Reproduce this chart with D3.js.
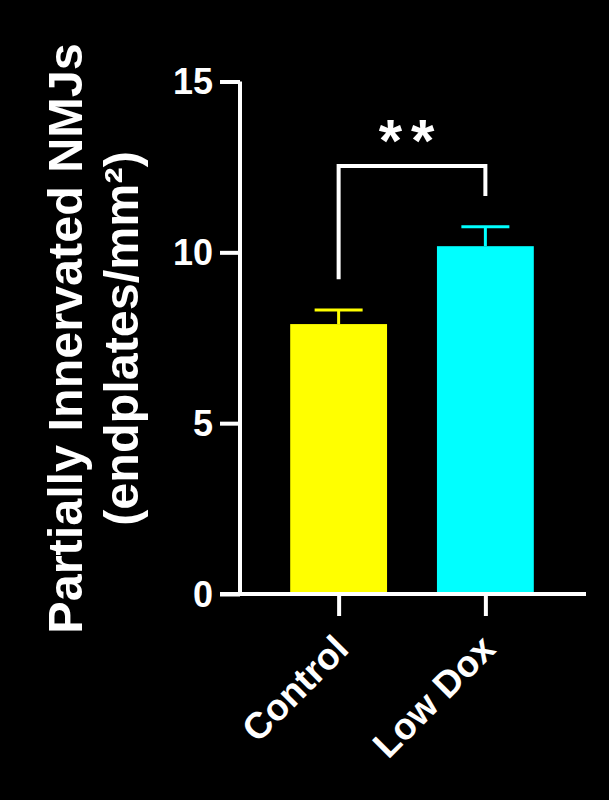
<!DOCTYPE html>
<html>
<head>
<meta charset="utf-8">
<script src="https://cdn.jsdelivr.net/npm/d3@7"></script>
<style>
  html, body { margin: 0; padding: 0; background: #000; }
  svg { display: block; }
  text { font-family: "Liberation Sans", Arial, Helvetica, sans-serif; font-weight: bold; fill: #fff; }
</style>
</head>
<body>
<svg id="chart" width="609" height="800"></svg>
<script>
// ---- data ----
const categories = ["Control", "Low Dox"];
const means = [7.9, 10.18];
const sems = [0.41, 0.57];
const colors = ["#FFFF00", "#00FFFF"];
const yTicks = [0, 5, 10, 15];
const yTitleLines = ["Partially Innervated NMJs", "(endplates/mm\u00B2)"];
const sigLabel = "**";
const bracket = { top: 12.53, leftEnd: 9.21, rightEnd: 11.65 };

// ---- layout ----
const W = 609, H = 800;
const svg = d3.select("#chart");
svg.append("rect").attr("width", W).attr("height", H).attr("fill", "#000");

const y = d3.scaleLinear().domain([0, 15]).range([594, 81.5]);
const x = d3.scaleBand().domain(categories).range([265.25, 558.75])
  .paddingInner(0.34).paddingOuter(0.17);

const axisX0 = 240;

// bars
svg.selectAll("rect.bar").data(categories).join("rect")
  .attr("class", "bar")
  .attr("x", d => x(d))
  .attr("width", x.bandwidth())
  .attr("y", (d, i) => y(means[i]))
  .attr("height", (d, i) => y(0) - y(means[i]))
  .attr("fill", (d, i) => colors[i]);

// error bars (upper only)
const eb = svg.append("g");
categories.forEach((c, i) => {
  const cx = x(c) + x.bandwidth() / 2;
  eb.append("line").attr("x1", cx).attr("x2", cx)
    .attr("y1", y(means[i])).attr("y2", y(means[i] + sems[i]))
    .attr("stroke", colors[i]).attr("stroke-width", 3);
  eb.append("line").attr("x1", cx - 24).attr("x2", cx + 24)
    .attr("y1", y(means[i] + sems[i])).attr("y2", y(means[i] + sems[i]))
    .attr("stroke", colors[i]).attr("stroke-width", 3);
});

// y axis
const yAxis = d3.axisLeft(y).tickValues(yTicks).tickSize(20).tickPadding(7).tickFormat(d3.format("d"));
const gy = svg.append("g").attr("transform", `translate(${axisX0},0)`).call(yAxis);
gy.select(".domain").attr("d", `M0,${y(15)}V${y(0)}`).attr("stroke", "#fff").attr("stroke-width", 4).attr("fill", "none");
gy.selectAll(".tick line").attr("stroke", "#fff").attr("stroke-width", 4);
gy.selectAll(".tick text").attr("font-size", 36).attr("fill", "#fff")
  .attr("font-family", '"Liberation Sans", Arial, sans-serif').attr("font-weight", "bold")
  .attr("dy", "0.345em");

// x axis
const xc = d3.scalePoint().domain(categories)
  .range([x(categories[0]) + x.bandwidth() / 2, x(categories[1]) + x.bandwidth() / 2]);
const xAxis = d3.axisBottom(xc).tickSize(22).tickFormat("");
const gx = svg.append("g").attr("transform", `translate(0,${y(0)})`).call(xAxis);
gx.select(".domain").attr("d", `M${axisX0 - 20},0H586`).attr("stroke", "#fff").attr("stroke-width", 4);
gx.selectAll(".tick line").attr("stroke", "#fff").attr("stroke-width", 4);

// x labels rotated
svg.selectAll("text.xlab").data(categories).join("text")
  .attr("class", "xlab")
  .attr("text-anchor", "end")
  .attr("font-size", 37)
  .attr("transform", d => `translate(${xc(d) + 12},${y(0) + 57}) rotate(-45)`)
  .text(d => d);

// y title
const yt = svg.append("text")
  .attr("text-anchor", "middle")
  .attr("font-size", 48.5)
  .attr("transform", `translate(82,338.5) rotate(-90)`);
yt.selectAll("tspan").data(yTitleLines).join("tspan")
  .attr("x", 0)
  .attr("y", (d, i) => i * 56)
  .text(d => d);

// significance bracket
const x1 = xc(categories[0]), x2 = xc(categories[1]);
svg.append("path")
  .attr("d", `M${x1},${y(bracket.leftEnd)}V${y(bracket.top)}H${x2}V${y(bracket.rightEnd)}`)
  .attr("fill", "none").attr("stroke", "#fff").attr("stroke-width", 4);
svg.append("text")
  .attr("x", (x1 + x2) / 2 - 1)
  .attr("y", y(bracket.top) - 5)
  .attr("text-anchor", "middle")
  .attr("font-size", 60)
  .attr("letter-spacing", 9)
  .text(sigLabel);
</script>
</body>
</html>
